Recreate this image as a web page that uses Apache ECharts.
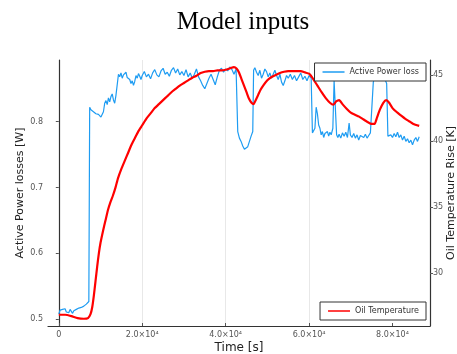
<!DOCTYPE html>
<html>
<head>
<meta charset="utf-8">
<script src="https://cdn.jsdelivr.net/npm/echarts@6/dist/echarts.min.js"></script>
<style>html,body{margin:0;padding:0;background:#fff;overflow:hidden;width:100%;height:100%}#c{width:100vw;height:100vh}</style>
</head>
<body>
<div id="c"></div>
<script>
// ---- data ----
const xTicks = [0, 20000, 40000, 60000, 80000];
const xTickLabels = ['0', '2.0×10⁴', '4.0×10⁴', '6.0×10⁴', '8.0×10⁴'];
const leftTicks = [0.5, 0.6, 0.7, 0.8];
const rightTicks = [30, 35, 40, 45];

const powerTime = [0,300,600,900,1200,1500,1800,2100,2400,2700,3000,3300,3600,3900,4200,4500,4800,5100,5400,5700,6000,6300,6600,6900,7200,7400,7700,8000,8300,8600,8900,9200,9500,9800,10100,10400,10700,11000,11300,11600,11900,12200,12500,12800,13100,13400,13700,14000,14300,14600,14900,15200,15500,15800,16100,16400,16700,17000,17300,17600,17900,18200,18500,18800,19100,19400,19700,20000,20500,21000,21500,22000,22500,23000,23500,24000,24500,25000,25500,26000,26500,27000,27500,28000,28500,29000,29500,30000,30500,31000,31500,32000,32500,33000,33500,34000,34500,35000,35500,36000,36500,37000,37500,38000,38500,39000,39500,40000,40500,41000,41500,42000,42500,42900,43300,43700,44100,44500,44900,45300,45700,46100,46500,46700,47000,47400,47800,48200,48600,49000,49400,49800,50200,50600,51000,51400,51800,52200,52600,53000,53400,53800,54200,54600,55000,55500,56000,56500,57000,57500,58000,58500,59000,59500,60000,60500,60800,61100,61400,61700,62000,62300,62600,62900,63200,63500,63800,64100,64400,64700,65000,65300,65700,66000,66300,66600,66900,67200,67600,68000,68400,68800,69200,69600,69900,70300,70700,71100,71500,71900,72300,72700,73100,73500,73900,74300,74700,75100,75400,75800,76200,76600,77000,77400,77800,78200,78600,78900,79200,79600,80000,80400,80800,81200,81600,82000,82400,82800,83200,83600,84000,84400,84800,85200,85600,86000,86400];
const powerLoss = [0.508,0.514,0.511,0.515,0.512,0.516,0.511,0.514,0.510,0.515,0.512,0.509,0.513,0.511,0.515,0.513,0.517,0.514,0.518,0.516,0.520,0.518,0.523,0.521,0.527,0.822,0.818,0.820,0.815,0.817,0.812,0.815,0.811,0.813,0.807,0.804,0.815,0.828,0.832,0.826,0.836,0.830,0.838,0.842,0.833,0.828,0.840,0.843,0.872,0.868,0.874,0.866,0.871,0.869,0.875,0.867,0.870,0.864,0.858,0.862,0.855,0.861,0.870,0.866,0.873,0.869,0.864,0.870,0.876,0.868,0.872,0.865,0.874,0.879,0.871,0.868,0.877,0.881,0.872,0.875,0.869,0.878,0.882,0.874,0.880,0.871,0.876,0.870,0.879,0.868,0.874,0.866,0.872,0.880,0.868,0.862,0.855,0.850,0.858,0.866,0.872,0.864,0.856,0.868,0.878,0.881,0.875,0.880,0.877,0.883,0.879,0.872,0.880,0.785,0.775,0.770,0.763,0.758,0.757,0.762,0.770,0.778,0.785,0.878,0.882,0.875,0.870,0.878,0.866,0.872,0.880,0.876,0.868,0.874,0.866,0.872,0.878,0.870,0.864,0.872,0.860,0.855,0.862,0.870,0.866,0.872,0.864,0.870,0.862,0.868,0.874,0.864,0.869,0.862,0.870,0.866,0.783,0.780,0.790,0.822,0.812,0.795,0.790,0.780,0.785,0.776,0.782,0.779,0.785,0.778,0.784,0.780,0.790,0.862,0.865,0.780,0.776,0.781,0.775,0.783,0.778,0.784,0.776,0.798,0.780,0.776,0.782,0.775,0.780,0.772,0.779,0.782,0.776,0.781,0.775,0.779,0.783,0.782,0.860,0.868,0.865,0.870,0.866,0.872,0.868,0.864,0.858,0.778,0.775,0.780,0.776,0.782,0.777,0.784,0.776,0.780,0.772,0.778,0.770,0.774,0.768,0.772,0.765,0.772,0.776,0.770,0.777];

const tempTime = [0,1500,3000,4500,6000,7000,7600,8000,8400,8800,9200,9600,10000,10600,11200,11800,12400,13000,13600,14200,15000,15800,16600,17400,18200,19000,20000,21000,22000,23000,24000,25000,26000,27000,28000,29000,30000,31000,32000,33000,34000,35000,36000,37000,38000,39000,40000,41000,42000,42600,43200,43800,44400,45000,45600,46200,46700,47200,47800,48400,49000,50000,51000,52000,53000,54000,55000,56000,57000,58000,59000,60000,61000,62000,63000,64000,65000,65800,66500,67200,68000,69000,70000,71000,72000,73000,74000,75000,75700,76300,77000,77800,78500,79200,80000,81000,82000,83000,84000,85000,86400];
const oilTemp = [26.85,26.85,26.75,26.6,26.55,26.6,26.9,27.4,28.3,29.4,30.5,31.5,32.3,33.2,34.0,34.8,35.4,35.9,36.5,37.2,37.9,38.5,39.1,39.7,40.2,40.7,41.2,41.7,42.1,42.5,42.8,43.1,43.4,43.7,43.95,44.2,44.4,44.6,44.8,44.95,45.15,45.25,45.3,45.3,45.35,45.35,45.4,45.5,45.6,45.5,45.2,44.7,44.2,43.7,43.2,42.9,42.8,43.1,43.5,43.9,44.2,44.6,44.85,45.0,45.15,45.25,45.3,45.3,45.3,45.3,45.2,45.1,44.7,44.2,43.7,43.25,42.9,42.75,43.0,43.1,42.8,42.45,42.15,42.0,41.85,41.65,41.45,41.3,41.3,41.8,42.4,42.9,43.1,42.9,42.5,42.2,41.95,41.7,41.5,41.3,41.15];

const pairs = (xs, ys) => xs.map((x, i) => [x, ys[i]]);

const chart = echarts.init(document.getElementById('c'), null, {renderer: 'canvas'});
const tickFont = {fontFamily: 'DejaVu Sans', fontSize: 8, color: '#555'};
const nameFont = {fontFamily: 'DejaVu Sans', fontSize: 11, color: '#222'};
chart.setOption({
  animation: false,
  backgroundColor: '#fff',
  title: {
    text: 'Model inputs', left: 238, top: 5, textAlign: 'center',
    textStyle: {fontFamily: 'Liberation Serif', fontSize: 25, fontWeight: 'normal', color: '#000'}
  },
  grid: {left: 48, right: 27, top: 60, bottom: 28, containLabel: false, outerBoundsMode: 'none'},
  legend: [
    {data: ['Active Power loss'], right: 31, top: 63, orient: 'vertical',
     icon: 'rect', itemWidth: 22, itemHeight: 1.5, itemGap: 0,
     backgroundColor: '#fff', borderColor: '#333', borderWidth: 1, borderRadius: 0,
     padding: [5, 7, 5, 8], textStyle: {fontFamily: 'DejaVu Sans', fontSize: 8, color: '#333'}},
    {data: ['Oil Temperature'], right: 31, top: 302, orient: 'vertical',
     icon: 'rect', itemWidth: 22, itemHeight: 1.5, itemGap: 0,
     backgroundColor: '#fff', borderColor: '#333', borderWidth: 1, borderRadius: 0,
     padding: [5, 7, 5, 8], textStyle: {fontFamily: 'DejaVu Sans', fontSize: 8, color: '#333'}}
  ],
  xAxis: {
    type: 'value', min: -2592, max: 88992,
    name: 'Time [s]', nameLocation: 'middle', nameGap: 16, nameMoveOverlap: false,
    nameTextStyle: Object.assign({}, nameFont, {fontSize: 12}),
    axisLine: {show: true, onZero: false, lineStyle: {color: '#333', width: 1.2}},
    axisTick: {show: true, inside: true, length: 3, customValues: xTicks, lineStyle: {color: '#555'}},
    axisLabel: Object.assign({customValues: xTicks, margin: 5,
      formatter: v => xTickLabels[xTicks.indexOf(v)] || ''}, tickFont),
    splitLine: {show: true, showMinLine: false, showMaxLine: false, lineStyle: {color: '#e8e8e8', width: 1}}
  },
  yAxis: [
    {type: 'value', min: 0.4898, max: 0.8936, position: 'left',
     name: 'Active Power losses [W]', nameLocation: 'middle', nameGap: 22, nameMoveOverlap: false, nameTextStyle: nameFont,
     axisLine: {show: true, lineStyle: {color: '#333', width: 1.2}},
     axisTick: {show: true, length: 3, customValues: leftTicks, lineStyle: {color: '#555'}},
     axisLabel: Object.assign({customValues: leftTicks, margin: 5, showMinLabel: true, showMaxLabel: true, formatter: v => v.toFixed(1)}, tickFont),
     splitLine: {show: false}},
    {type: 'value', min: 26.0, max: 46.14, position: 'right',
     name: 'Oil Temperature Rise [K]', nameLocation: 'middle', nameGap: 16, nameMoveOverlap: false, nameRotate: 90, nameTextStyle: nameFont,
     axisLine: {show: true, lineStyle: {color: '#333', width: 1.2}},
     axisTick: {show: true, length: 3, customValues: rightTicks, lineStyle: {color: '#555'}},
     axisLabel: Object.assign({customValues: rightTicks, margin: 3, showMinLabel: true, showMaxLabel: true, hideOverlap: false, formatter: v => String(v)}, tickFont),
     splitLine: {show: false}}
  ],
  series: [
    {name: 'Active Power loss', type: 'line', yAxisIndex: 0, data: pairs(powerTime, powerLoss),
     symbol: 'none', lineStyle: {color: '#1e9cf2', width: 1.2}, itemStyle: {color: '#1e9cf2'}, z: 2},
    {name: 'Oil Temperature', type: 'line', yAxisIndex: 1, data: pairs(tempTime, oilTemp),
     symbol: 'none', smooth: 0.2, lineStyle: {color: '#ff0000', width: 2.2}, itemStyle: {color: '#ff0000'}, z: 3}
  ]
});
</script>
</body>
</html>
